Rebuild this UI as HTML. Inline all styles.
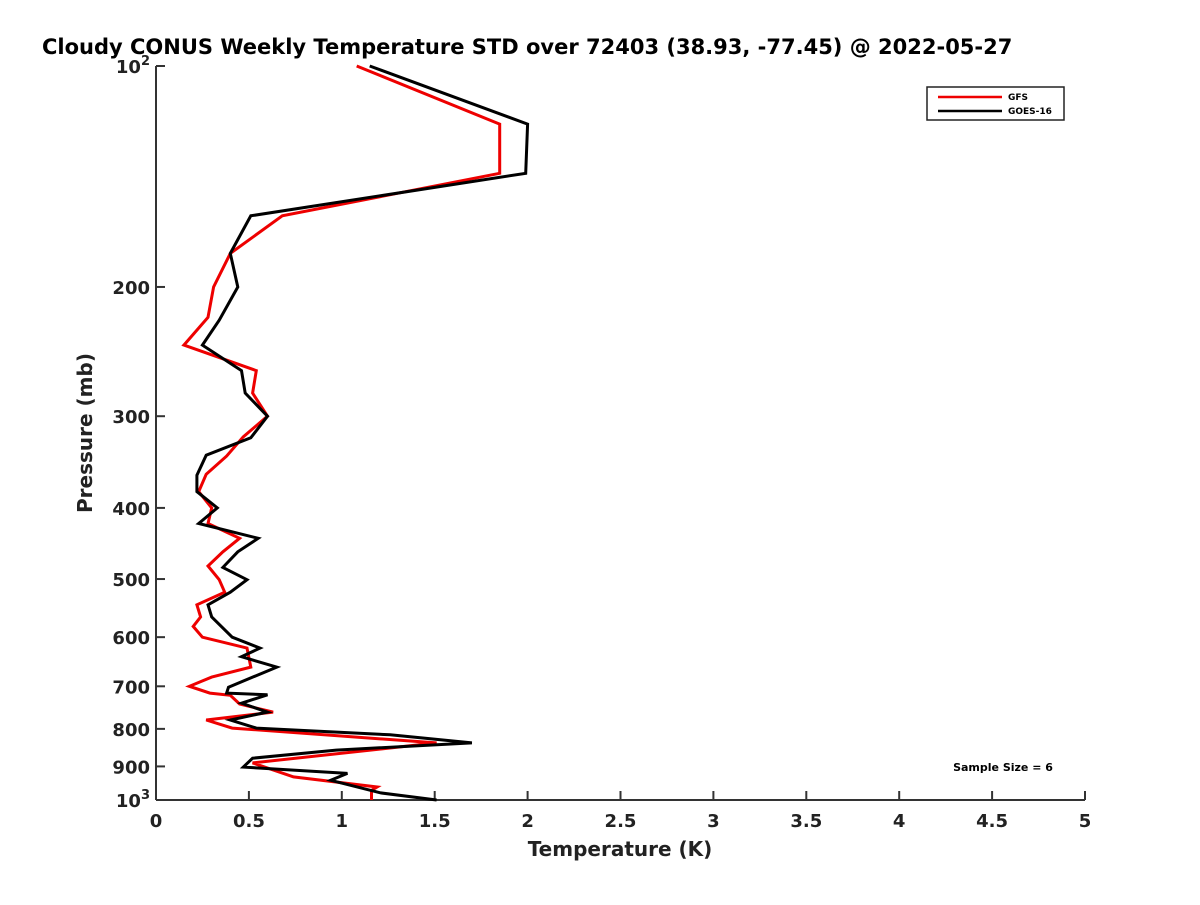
<!DOCTYPE html>
<html><head><meta charset="utf-8"><style>
body{margin:0;background:#fff;}
svg{font-family:"DejaVu Sans","Liberation Sans",sans-serif;}
</style></head><body>
<svg id="chart" width="1200" height="900" xmlns="http://www.w3.org/2000/svg">
<text x="42" y="54" text-anchor="start" font-size="21" font-weight="bold" fill="#000">Cloudy CONUS Weekly Temperature STD over 72403 (38.93, -77.45) @ 2022-05-27</text>
<g id="axes"></g>
<g id="series"></g>
<g>
<rect x="927" y="87" width="137" height="33" fill="#fff" stroke="#222" stroke-width="1.5"/>
<line x1="938" y1="97" x2="1002" y2="97" stroke="#e00" stroke-width="2.5"/>
<text x="1008" y="100" font-size="9" font-weight="bold">GFS</text>
<line x1="938" y1="111" x2="1002" y2="111" stroke="#000" stroke-width="2.5"/>
<text x="1008" y="114" font-size="9" font-weight="bold">GOES-16</text>
</g>
<text x="1003" y="771" text-anchor="middle" font-size="11" font-weight="bold">Sample Size = 6</text>
<text x="620" y="856" text-anchor="middle" font-size="20" font-weight="bold" fill="#222">Temperature (K)</text>
<text transform="translate(92,433) rotate(-90)" text-anchor="middle" font-size="20" font-weight="bold" fill="#222">Pressure (mb)</text>
</svg>
<script>
const xTicks = [0,0.5,1,1.5,2,2.5,3,3.5,4,4.5,5];
const xTickLabels = ["0","0.5","1","1.5","2","2.5","3","3.5","4","4.5","5"];
const yTicks = [200,300,400,500,600,700,800,900];
const goesP = [100,120,140,160,180,200,222,240,260,279,300,321,339,361,380,400,420,440,459,482,501,521,542,563,600,621,638,659,702,715,719,738,759,778,798,815,836,855,877,902,920,940,978,1000];
const goesV = [1.15,2.0,1.99,0.51,0.40,0.44,0.34,0.25,0.46,0.48,0.60,0.51,0.27,0.22,0.22,0.33,0.23,0.55,0.44,0.36,0.49,0.40,0.28,0.30,0.41,0.56,0.46,0.65,0.39,0.38,0.60,0.46,0.60,0.40,0.54,1.26,1.70,0.97,0.52,0.47,1.03,0.94,1.21,1.51];
const gfsP = [100,120,140,160,180,200,220,240,260,279,300,320,340,360,380,400,420,440,459,480,501,521,542,563,580,600,621,659,680,700,715,720,740,759,778,798,836,890,930,960,970,1000];
const gfsV = [1.08,1.85,1.85,0.68,0.40,0.31,0.28,0.15,0.54,0.52,0.60,0.47,0.38,0.27,0.23,0.30,0.28,0.45,0.36,0.28,0.34,0.37,0.22,0.24,0.20,0.25,0.49,0.51,0.30,0.18,0.29,0.40,0.45,0.63,0.27,0.41,1.51,0.52,0.74,1.19,1.16,1.16];

const X0=156,X1=1085,YT=66,YB=800;
const xs=v=>X0+(v/5)*(X1-X0);
const ys=p=>YT+(Math.log10(p)-2)*(YB-YT);
const NS="http://www.w3.org/2000/svg";
function mk(tag,attrs,parent){const e=document.createElementNS(NS,tag);for(const k in attrs)e.setAttribute(k,attrs[k]);parent.appendChild(e);return e;}
const axes=document.getElementById('axes');
let e=mk('line',{x1:X0,y1:YT,x2:X0,y2:YB,stroke:'#333','stroke-width':2},axes);


e=mk('line',{x1:X0,y1:YB,x2:X1,y2:YB,stroke:'#333','stroke-width':2},axes);


xTicks.forEach((v,i)=>{
  const t=mk('line',{x1:xs(v),y1:YB,x2:xs(v),y2:YB-9,stroke:'#333','stroke-width':2},axes);
  
  
  const l=mk('text',{x:xs(v),y:YB+27,'text-anchor':'middle','font-size':18,'font-weight':'bold',fill:'#222'},axes);
  l.textContent=xTickLabels[i];
  
  
});
[100,1000].concat(yTicks).forEach(p=>{
  const t=mk('line',{x1:X0,y1:ys(p),x2:X0+9,y2:ys(p),stroke:'#333','stroke-width':2},axes);
  
  
});
yTicks.forEach(p=>{
  const l=mk('text',{x:X0-6,y:ys(p)+7,'text-anchor':'end','font-size':18,'font-weight':'bold',fill:'#222'},axes);
  l.textContent=String(p);
  
  
});
[[100,'2'],[1000,'3']].forEach(([p,ex])=>{
  const l=mk('text',{x:X0-6,y:ys(p)+7,'text-anchor':'end','font-size':18,'font-weight':'bold',fill:'#222'},axes);
  l.textContent='10';
  const s=mk('tspan',{dy:-8,'font-size':13},l);
  s.textContent=ex;
  
  
});
const ser=document.getElementById('series');
function line(P,V,color,name){
  const pts=P.map((p,i)=>xs(V[i]).toFixed(1)+','+ys(p).toFixed(1)).join(' ');
  const pl=mk('polyline',{points:pts,fill:'none',stroke:color,'stroke-width':3,'stroke-linejoin':'miter'},ser);
  
  
}
line(gfsP,gfsV,'#e00','gfs-line');
line(goesP,goesV,'#000','goes16-line');
</script>
</body></html>
